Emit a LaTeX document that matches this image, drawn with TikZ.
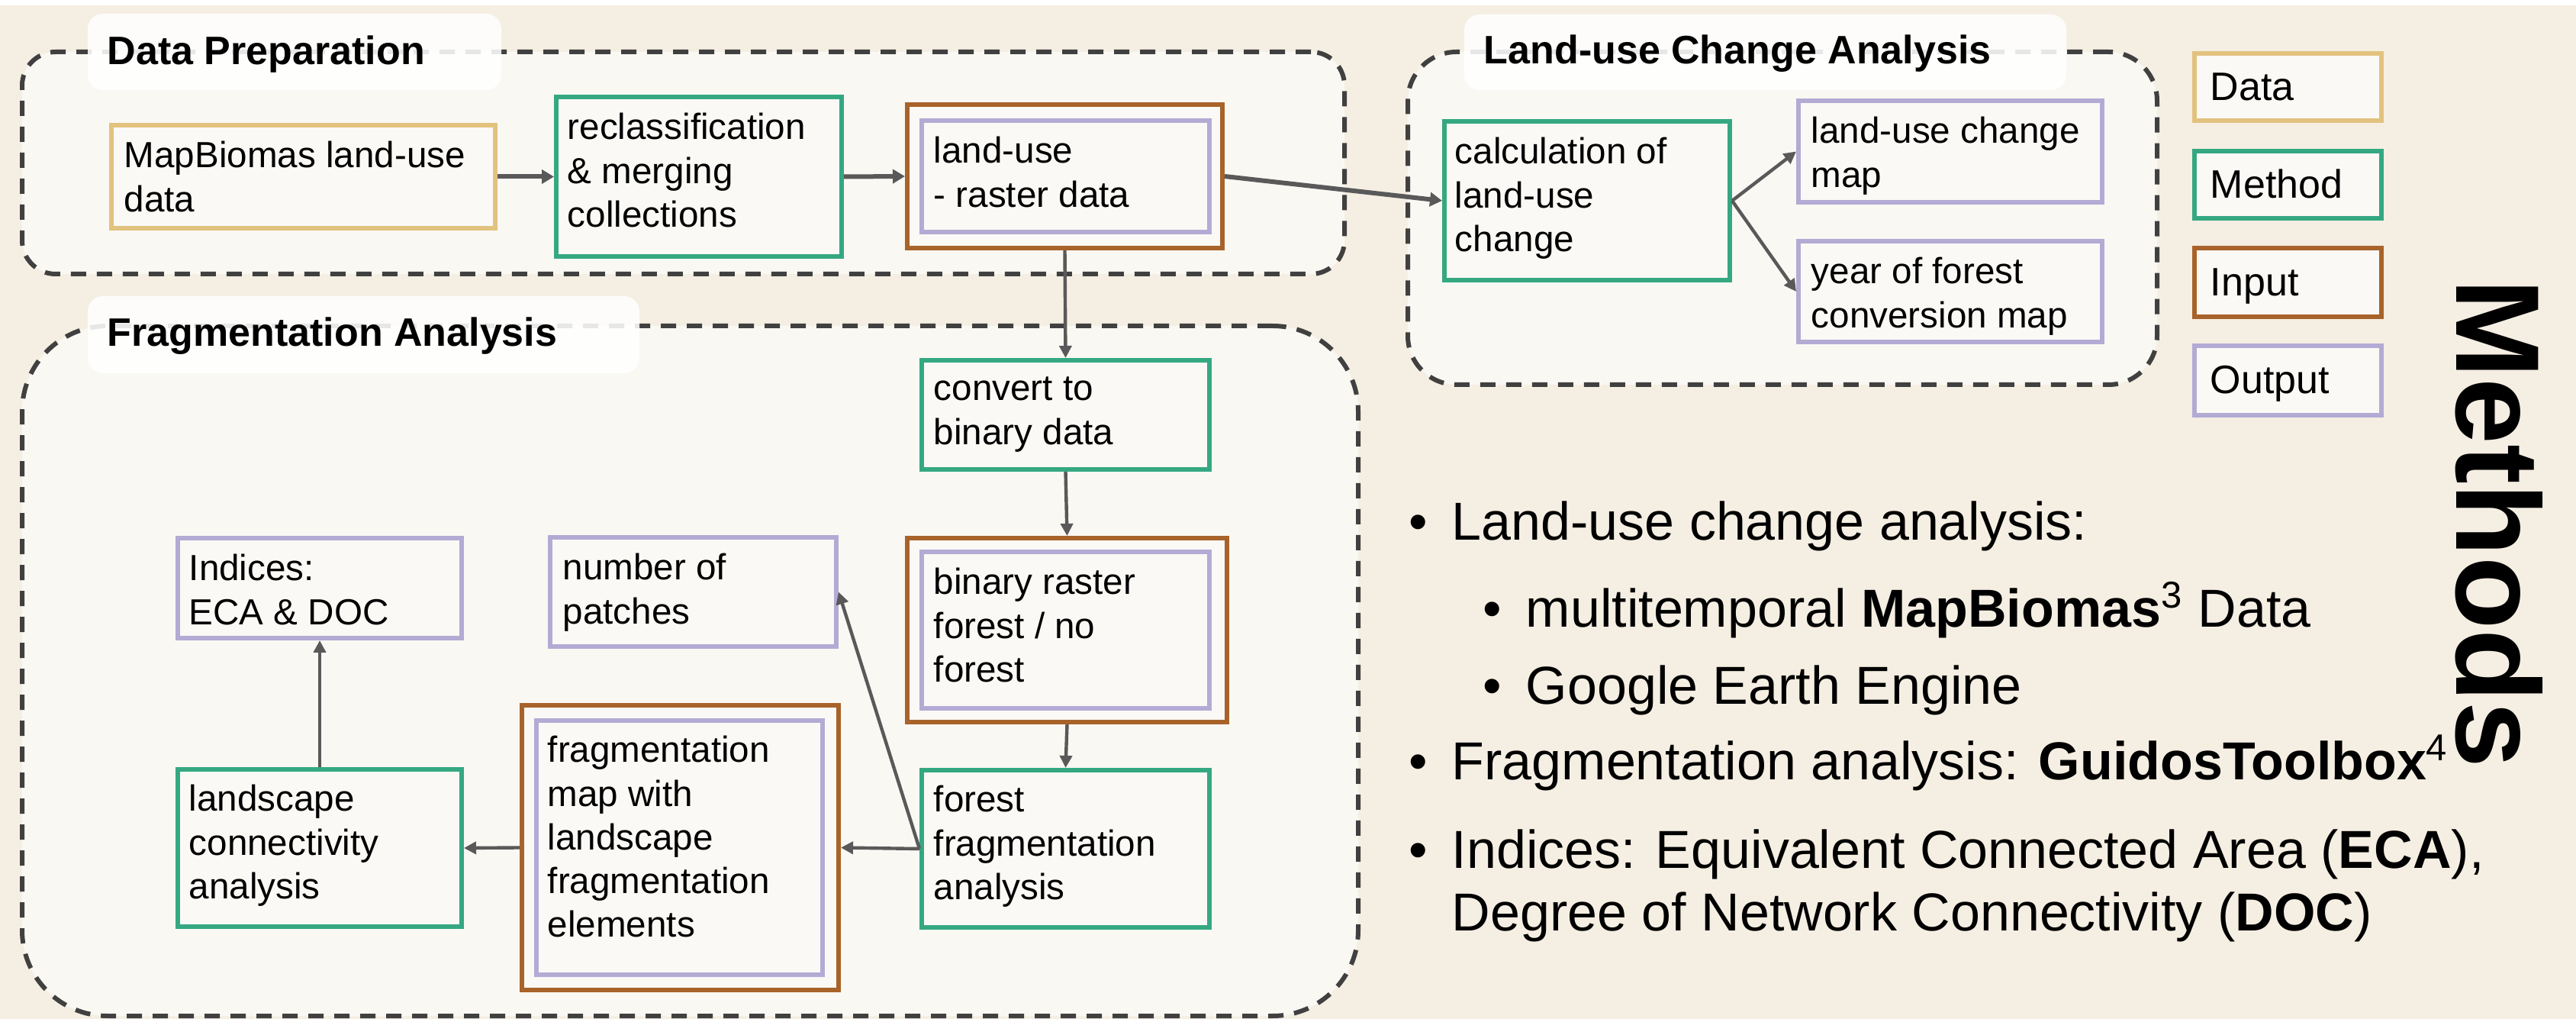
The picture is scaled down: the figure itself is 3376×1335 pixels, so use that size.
\documentclass[tikz,border=0pt]{standalone}
\usepackage{fontspec}
\setmainfont{Liberation Sans}
\usetikzlibrary{arrows.meta,fit,calc}
\definecolor{bgc}{HTML}{F5EEE2}
\definecolor{grpfill}{HTML}{FAF8F3}
\definecolor{boxfill}{HTML}{FAF9F5}
\definecolor{cgreen}{HTML}{35A882}
\definecolor{ctan}{HTML}{E2C27F}
\definecolor{cbrown}{HTML}{A8632A}
\definecolor{cpurple}{HTML}{B3ABD4}
\definecolor{dashc}{HTML}{404040}
\definecolor{arrc}{HTML}{595959}
\tikzset{
  bx/.style={fill=boxfill, line width=1.5pt, inner sep=0pt},
  bxg/.style={bx, draw=cgreen},
  bxt/.style={bx, draw=ctan},
  bxb/.style={bx, draw=cbrown},
  bxp/.style={bx, draw=cpurple},
  txt/.style={anchor=north west, inner sep=0pt, align=left, font=\fontsize{11.9pt}{14.3pt}\selectfont},
  lgt/.style={anchor=base west, inner sep=0pt, font=\fontsize{13pt}{15pt}\selectfont},
  grp/.style={draw=dashc, dash pattern=on 5pt off 3.5pt, line width=1.5pt, fill=grpfill, inner sep=0pt},
  lbl/.style={fill=white, fill opacity=0.88, draw=none, rounded corners=5pt, inner sep=0pt},
  ttl/.style={font=\bfseries\fontsize{13pt}{15pt}\selectfont, anchor=base west, inner sep=0pt},
  blt/.style={font=\fontsize{17.5pt}{20pt}\selectfont, anchor=base west, inner sep=0pt},
  arr/.style={draw=arrc, line width=1.5pt, -{Triangle[length=4pt,width=4.5pt]}},
  arrt/.style={draw=arrc, line width=1.1pt, -{Triangle[length=4pt,width=4pt]}},
}
\begin{document}
\begin{tikzpicture}[x=0.25pt,y=-0.25pt]
\useasboundingbox (0,0) rectangle (3376,1335);
\fill[bgc] (0,0) rectangle (3376,1335);
\fill[white] (0,0) rectangle (3376,7);

% groups
\node[grp, rounded corners=11pt, fit={(29,68)(1762,359)}] (gdp) {};
\node[grp, rounded corners=16pt, fit={(1845,68)(2827,504)}] (glu) {};
\node[grp, rounded corners=28pt, fit={(29,427)(1780,1331)}] (gfr) {};

\node[lbl, fit={(115,18)(657,118)}] (ldp) {};
\node[ttl] (ldp-t) at (140,85) {Data Preparation};
\node[lbl, fit={(1919,19)(2708,118)}] (llu) {};
\node[ttl] (llu-t) at (1944,84) {Land-use Change Analysis};
\node[lbl, fit={(115,388)(838,489)}] (lfr) {};
\node[ttl] (lfr-t) at (140,454) {Fragmentation Analysis};

% data preparation
\node[bxt, fit={(146,164)(649,299)}] (mapb) {};
\node[txt] (mapb-t) at ($(mapb.north west)+(19,18)$) {\strut MapBiomas land-use\\data};
\node[bxg, fit={(729,127)(1103,336)}] (recl) {};
\node[txt] (recl-t) at ($(recl.north west)+(17,18)$) {\strut reclassification\\\& merging\\collections};
\node[bxb, fit={(1189,137)(1602,325)}] (rastO) {};
\node[bxp, fit={(1208,158)(1585,304)}] (rastI) {};
\node[txt] (rast-t) at ($(rastI.north west)+(18,18)$) {\strut land-use\\- raster data};

% land-use change
\node[bxg, fit={(1893,159)(2267,367)}] (calc) {};
\node[txt] (calc-t) at ($(calc.north west)+(16,18)$) {\strut calculation of\\land-use\\change};
\node[bxp, fit={(2357,132)(2755,265)}] (lucm) {};
\node[txt] (lucm-t) at ($(lucm.north west)+(19,18)$) {\strut land-use change\\map};
\node[bxp, fit={(2357,316)(2755,448)}] (yfc) {};
\node[txt] (yfc-t) at ($(yfc.north west)+(19,18)$) {\strut year of forest\\conversion map};

% legend
\node[bxt, fit={(2876,70)(3121,158)}] (legd) {};
\node[lgt] (legd-t) at (2896,132) {Data};
\node[bxg, fit={(2876,198)(3121,286)}] (legm) {};
\node[lgt] (legm-t) at (2896,260) {Method};
\node[bxb, fit={(2876,325)(3121,415)}] (legi) {};
\node[lgt] (legi-t) at (2896,388) {Input};
\node[bxp, fit={(2876,453)(3121,544)}] (lego) {};
\node[lgt] (lego-t) at (2896,516) {Output};

% fragmentation
\node[bxg, fit={(1208,472)(1585,615)}] (conv) {};
\node[txt] (conv-t) at ($(conv.north west)+(18,15)$) {\strut convert to\\binary data};
\node[bxb, fit={(1189,705)(1608,946)}] (binO) {};
\node[bxp, fit={(1208,723)(1585,928)}] (binI) {};
\node[txt] (bin-t) at ($(binI.north west)+(18,18)$) {\strut binary raster\\forest / no\\forest};
\node[bxg, fit={(1208,1009)(1585,1215)}] (ffa) {};
\node[txt] (ffa-t) at ($(ffa.north west)+(18,17)$) {\strut forest\\fragmentation\\analysis};
\node[bxb, fit={(684,924)(1099,1297)}] (fmO) {};
\node[bxp, fit={(703,944)(1078,1277)}] (fmI) {};
\node[txt] (fm-t) at ($(fmI.north west)+(17,17)$) {\strut fragmentation\\map with\\landscape\\fragmentation\\elements};
\node[bxg, fit={(233,1008)(605,1214)}] (lca) {};
\node[txt] (lca-t) at ($(lca.north west)+(17,17)$) {\strut landscape\\connectivity\\analysis};
\node[bxp, fit={(233,705)(605,836)}] (idx) {};
\node[txt] (idx-t) at ($(idx.north west)+(17,18)$) {\strut Indices:\\ECA \& DOC};
\node[bxp, fit={(721,704)(1096,847)}] (nop) {};
\node[txt] (nop-t) at ($(nop.north west)+(19,18)$) {\strut number of\\patches};

% connectors
\draw[arr] (mapb.east) -- (recl.west);
\draw[arr] (recl.east) -- (rastO.west);
\draw[arr] (rastO.east) -- (calc.west);
\draw[arrt] (calc.east) -- (lucm.west);
\draw[arrt] (calc.east) -- (yfc.west);
\draw[arrt] (rastO.south) -- (conv.north);
\draw[arrt] (conv.south) -- (binO.north);
\draw[arrt] (binO.south) -- (ffa.north);
\draw[arrt] (ffa.west) -- (fmO.east);
\draw[arrt] (ffa.west) -- (nop.east);
\draw[arrt] (fmO.west) -- (lca.east);
\draw[arrt] (lca.north) -- (idx.south);

% bullets
\node[blt] (b1) at (1846,708) {•};
\node[blt] (b1t) at (1902,708) {Land-use change analysis:};
\node[blt] (b2) at (1943,822) {•};
\node[blt] (b2t) at (1999,822) {multitemporal \textbf{MapBiomas}\textsuperscript{3} Data};
\node[blt] (b3) at (1943,923) {•};
\node[blt] (b3t) at (1999,923) {Google Earth Engine};
\node[blt] (b4) at (1846,1022) {•};
\node[blt] (b4t) at (1902,1022) {Fragmentation analysis: \textbf{GuidosToolbox}\textsuperscript{4}};
\node[blt] (b5) at (1846,1138) {•};
\node[blt] (b5t) at (1902,1138) {Indices: Equivalent Connected Area (\textbf{ECA}),};
\node[blt] (b5u) at (1902,1220) {Degree of Network Connectivity (\textbf{DOC})};

\node[font=\bfseries\fontsize{39pt}{42pt}\selectfont, rotate=-90, anchor=base, inner sep=0pt] (meth) at (3219,686) {Methods};
\end{tikzpicture}
\end{document}
